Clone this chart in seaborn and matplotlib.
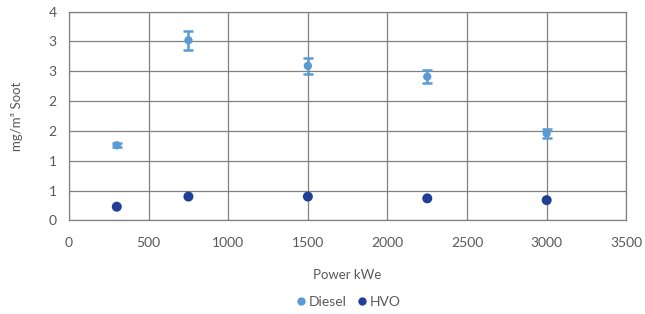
import numpy as np
import pandas as pd
import matplotlib
matplotlib.use("Agg")
import matplotlib.pyplot as plt
import seaborn as sns

# ==============================
# DATA
# ==============================
power_kwe = [300, 750, 1500, 2250, 3000]
diesel_soot = [1.26, 3.02, 2.59, 2.41, 1.46]
diesel_err = [0.03, 0.16, 0.13, 0.11, 0.07]
hvo_soot = [0.23, 0.40, 0.40, 0.37, 0.34]

y_ticks = [0, 0.5, 1.0, 1.5, 2.0, 2.5, 3.0, 3.5]
y_tick_labels = ["0", "1", "1", "2", "2", "3", "3", "4"]
x_ticks = [0, 500, 1000, 1500, 2000, 2500, 3000, 3500]

df = pd.DataFrame({
    "Power": power_kwe * 2,
    "Soot": diesel_soot + hvo_soot,
    "Fuel": ["Diesel"] * len(power_kwe) + ["HVO"] * len(power_kwe),
})

# ==============================
# STYLE
# ==============================
sns.set_style("white")
plt.rcParams["font.family"] = ["Lato", "DejaVu Sans"]

TEXT = "#595959"
GRID = "#808080"
palette = {"Diesel": "#5b9bd5", "HVO": "#223f98"}

fig = plt.figure(figsize=(6.45, 3.14), dpi=100)
ax = fig.add_axes([0.107, 0.298, 0.864, 0.665])

# error bars for diesel
ax.errorbar(power_kwe, diesel_soot, yerr=diesel_err, fmt="none",
            ecolor=palette["Diesel"], elinewidth=1.8, capsize=3.5,
            capthick=1.8, zorder=3)

sns.scatterplot(data=df, x="Power", y="Soot", hue="Fuel", palette=palette,
                size="Fuel", sizes={"Diesel": 36, "HVO": 52},
                linewidth=0, ax=ax, zorder=4, legend=False)

ax.set_xlim(0, 3500)
ax.set_ylim(0, 3.5)
ax.set_xticks(x_ticks)
ax.set_yticks(y_ticks)
ax.set_yticklabels(y_tick_labels)

ax.grid(True, color=GRID, linewidth=0.9)
ax.set_axisbelow(True)
for s in ax.spines.values():
    s.set_visible(True)
    s.set_color(GRID)
    s.set_linewidth(0.9)

ax.tick_params(axis="both", length=0, colors=TEXT, labelsize=10)
ax.tick_params(axis="x", pad=12)
ax.tick_params(axis="y", pad=9)
ax.set_xlabel("Power kWe", color=TEXT, fontsize=9.5, labelpad=14)
ax.set_ylabel("mg/m³ Soot", color=TEXT, fontsize=9.5, labelpad=18)

handles = [
    plt.Line2D([], [], marker="o", linestyle="none", markersize=6,
               markerfacecolor=palette[k], markeredgewidth=0, label=k)
    for k in ["Diesel", "HVO"]
]
ax.legend(handles=handles, loc="center", bbox_to_anchor=(0.5, -0.39),
          ncol=2, frameon=False, fontsize=10, handletextpad=0.05,
          handlelength=1.0, columnspacing=0.6, labelcolor=TEXT)

plt.savefig("out.png", dpi=100)
